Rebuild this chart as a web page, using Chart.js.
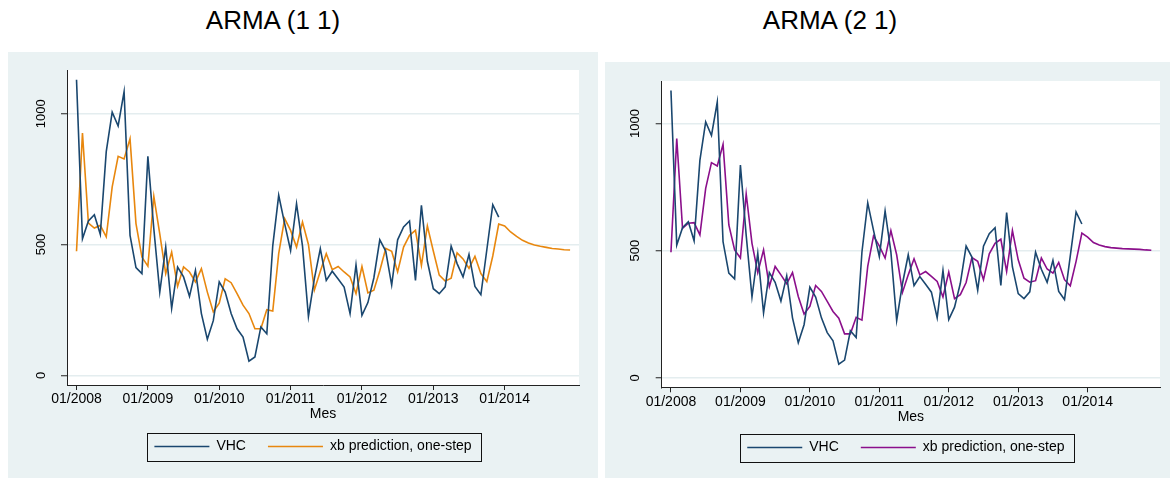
<!DOCTYPE html>
<html>
<head>
<meta charset="utf-8">
<script src="https://cdn.jsdelivr.net/npm/chart.js@4"></script>
<style>
  body { margin: 0; background: #fff; width: 1173px; height: 478px; position: relative; overflow: hidden;
         font-family: "Liberation Sans", Arial, sans-serif; }
  .title { position: absolute; top: 5px; width: 400px; text-align: center; font-size: 26px; line-height: 30px; color: #000; }
  .panel { position: absolute; background: #eaf2f3; }
  canvas { display: block; }
</style>
</head>
<body>
<div class="title" style="left:73px">ARMA (1 1)</div>
<div class="title" style="left:630px">ARMA (2 1)</div>
<div class="panel" style="left:8px;top:52px;width:590px;height:426px"><canvas id="c1" width="590" height="426"></canvas></div>
<div class="panel" style="left:605px;top:62px;width:565px;height:416px"><canvas id="c2" width="565" height="416"></canvas></div>

<script>
// monthly observations, 01/2008 .. 12/2013
const vhc = [1130, 522, 590, 614, 539, 855, 1006, 953, 1084, 535, 412, 389,
             837, 560, 318, 490, 256, 414, 376, 302, 401, 236, 138, 209,
             357, 318, 236, 178, 146, 54, 70, 185, 159, 495, 688, 580,
             477, 656, 495, 225, 370, 484, 363, 398, 368, 337, 236, 422,
             229, 278, 372, 518, 475, 345, 518, 567, 590, 363, 650, 436,
             331, 312, 338, 494, 427, 376, 462, 340, 308, 480, 652, 605];

// one-step predictions, 01/2008 .. 12/2014
const predArma11 = [474, 926, 582, 563, 573, 529, 720, 837, 827, 904, 580, 452,
                    417, 684, 541, 389, 471, 340, 414, 395, 357, 408, 318, 242,
                    276, 369, 354, 312, 268, 236, 178, 178, 251, 246, 465, 599,
                    554, 490, 586, 500, 326, 398, 465, 404, 416, 395, 376, 312,
                    416, 315, 325, 400, 485, 474, 395, 490, 535, 554, 420, 571,
                    475, 383, 360, 371, 468, 445, 409, 455, 389, 358, 456, 578,
                    571, 548, 531, 516, 506, 498, 493, 489, 485, 483, 480, 479];

const predArma21 = [494, 941, 588, 608, 610, 562, 745, 846, 833, 918, 601, 503,
                    471, 723, 529, 414, 503, 359, 438, 405, 370, 414, 320, 251,
                    281, 363, 340, 301, 261, 235, 173, 173, 238, 227, 438, 558,
                    519, 471, 579, 484, 336, 405, 468, 405, 418, 399, 379, 318,
                    416, 311, 327, 375, 473, 458, 386, 488, 529, 545, 418, 579,
                    464, 392, 376, 382, 471, 428, 412, 454, 386, 362, 458, 569,
                    553, 532, 522, 516, 512, 510, 508, 507, 506, 505, 503, 502];

const xTickMonths = [0, 12, 24, 36, 48, 60, 72];
const xTickLabels = ['01/2008', '01/2009', '01/2010', '01/2011', '01/2012', '01/2013', '01/2014'];
const yTicks = [0, 500, 1000];

const toPoints = arr => arr.map((v, i) => ({ x: i, y: v }));

const framePlugin = {
  id: 'frame',
  afterLayout(c, args, opts) {
    // nudge the legend sideways like the Stata legend
    c.legend.left += opts.dx;
    c.legend.right += opts.dx;
  },
  beforeDraw(c) {
    const a = c.chartArea, ctx = c.ctx;
    ctx.save();
    ctx.fillStyle = '#fff';
    ctx.fillRect(a.left, a.top, a.right - a.left, a.bottom - a.top);
    ctx.restore();
  },
  afterDraw(c) {
    const hb = c.legend.legendHitBoxes;
    if (!hb || !hb.length) return;
    const ctx = c.ctx;
    const l = Math.min(...hb.map(h => h.left)) - 7;
    const r = Math.max(...hb.map(h => h.left + h.width)) + 10;
    const t = hb[0].top - 7, b = hb[0].top + hb[0].height + 7;
    ctx.save();
    ctx.strokeStyle = '#111';
    ctx.lineWidth = 1;
    ctx.strokeRect(Math.round(l) + 0.5, Math.round(t) + 0.5, Math.round(r - l), Math.round(b - t));
    ctx.restore();
  }
};

function makeChart(id, pred, color, lay) {
  return new Chart(document.getElementById(id), {
    type: 'line',
    data: {
      datasets: [
        { label: 'VHC', data: toPoints(vhc), borderColor: '#1a476f', backgroundColor: '#1a476f',
          borderWidth: 1.6, pointRadius: 0, tension: 0 },
        { label: 'xb prediction, one-step', data: toPoints(pred), borderColor: color, backgroundColor: color,
          borderWidth: 1.6, pointRadius: 0, tension: 0 }
      ]
    },
    options: {
      responsive: false,
      animation: false,
      layout: { padding: { top: lay.top, right: lay.right, bottom: lay.bottom, left: 0 } },
      plugins: {
        tooltip: { enabled: false },
        frame: { dx: lay.legendDx },
        legend: {
          position: 'bottom',
          fullSize: false,
          labels: {
            color: '#000', font: { family: 'Liberation Sans', size: 14 },
            usePointStyle: true, pointStyle: 'line', pointStyleWidth: 55, padding: 22
          }
        }
      },
      scales: {
        x: {
          type: 'linear', min: -1.6, max: 84.5,
          afterBuildTicks: s => { s.ticks = xTickMonths.map(v => ({ value: v })); },
          afterFit: s => { s.height = lay.xHeight; },
          ticks: {
            color: '#000', font: { family: 'Liberation Sans', size: 14 }, padding: 1,
            maxRotation: 0, autoSkip: false,
            callback: v => xTickLabels[xTickMonths.indexOf(v)]
          },
          grid: { drawOnChartArea: false, tickLength: 5, tickColor: '#222', lineWidth: 1 },
          border: { color: '#222', width: 1 },
          title: { display: true, text: 'Mes', color: '#000', font: { family: 'Liberation Sans', size: 14 },
                   padding: { top: 0, bottom: lay.titlePad } }
        },
        y: {
          type: 'linear', min: -37, max: 1167,
          afterBuildTicks: s => { s.ticks = yTicks.map(v => ({ value: v })); },
          afterFit: s => { s.width = lay.yWidth; },
          ticks: {
            color: '#000', font: { family: 'Liberation Sans', size: 13 },
            minRotation: 90, maxRotation: 90, crossAlign: 'center', padding: lay.yPad,
            callback: v => String(v)
          },
          grid: { color: '#e4edef', lineWidth: 1.5, tickLength: 6, tickColor: '#222', tickWidth: 1 },
          border: { color: '#222', width: 1 }
        }
      }
    },
    plugins: [framePlugin]
  });
}

makeChart('c1', predArma11, '#e8870e',
  { top: 18, right: 19, bottom: 14.5, yWidth: 59, xHeight: 32.5, titlePad: -4.9, yPad: 5.5, legendDx: -10 });
makeChart('c2', predArma21, '#8b0f8b',
  { top: 19, right: 10, bottom: 13.5, yWidth: 56.7, xHeight: 31.2, titlePad: -7.5, yPad: 5.5, legendDx: -5 });
</script>
</body>
</html>
